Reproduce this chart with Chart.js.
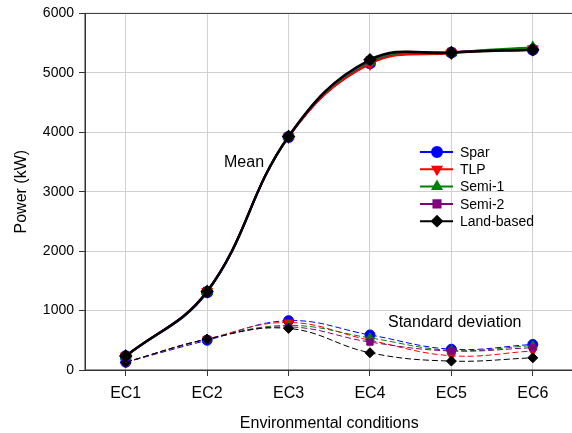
<!DOCTYPE html>
<html>
<head>
<meta charset="utf-8">
<script src="https://cdn.jsdelivr.net/npm/chart.js@4/dist/chart.umd.min.js"></script>
<style>
  html, body { margin: 0; padding: 0; background: #fff; overflow: hidden; }
  #wrap { width: 581px; height: 433px; }
</style>
</head>
<body>
<div id="wrap"><canvas id="chart"></canvas></div>
<script>
const labels = ['EC1', 'EC2', 'EC3', 'EC4', 'EC5', 'EC6'];

const meanSpar  = [230, 1310, 3920, 5160, 5340, 5390];
const meanTLP   = [230, 1320, 3920, 5150, 5330, 5400];
const meanSemi1 = [230, 1320, 3930, 5190, 5340, 5430];
const meanSemi2 = [230, 1330, 3930, 5210, 5350, 5390];
const meanLand  = [235, 1320, 3930, 5220, 5340, 5390];

const stdSpar  = [130, 500, 830, 590, 350, 430];
const stdTLP   = [130, 520, 800, 500, 240, 320];
const stdSemi1 = [130, 520, 750, 540, 330, 410];
const stdSemi2 = [130, 520, 725, 470, 320, 375];
const stdLand  = [130, 520, 700, 290, 150, 205];

const series = [
  { name: 'Spar', color: '#0000ff', style: 'circle', rot: 0, mean: meanSpar, std: stdSpar },
  { name: 'TLP', color: '#ff0000', style: 'triangle', rot: 180, mean: meanTLP, std: stdTLP },
  { name: 'Semi-1', color: '#008000', style: 'triangle', rot: 0, mean: meanSemi1, std: stdSemi1 },
  { name: 'Semi-2', color: '#800080', style: 'rect', rot: 0, mean: meanSemi2, std: stdSemi2 },
  { name: 'Land-based', color: '#000000', style: 'rectRot', rot: 0, mean: meanLand, std: stdLand }
];

const font = '"Liberation Sans", Arial, sans-serif';

// chart.js paints dataset 0 last, so the list is built back to front
const datasets = [];
['mean', 'std'].forEach(kind => {
  series.slice().reverse().forEach(s => {
    datasets.push({
      label: s.name,
      data: s[kind],
      borderColor: s.color,
      backgroundColor: s.color,
      borderWidth: kind === 'mean' ? (s.name === 'Land-based' ? 2.5 : 2) : 1,
      borderDash: kind === 'std' ? [6, 3] : [],
      pointStyle: s.style,
      pointRotation: s.rot,
      pointRadius: s.style === 'rect' ? 4.5 : 5,
      pointBorderColor: s.color,
      pointBackgroundColor: s.color,
      tension: 0.4,
      fill: false
    });
  });
});

const extras = {
  id: 'extras',
  afterDraw(chart) {
    const ctx = chart.ctx;
    const a = chart.chartArea;
    ctx.save();
    ctx.strokeStyle = '#333';
    ctx.lineWidth = 1;
    ctx.strokeRect(a.left, a.top, a.right - a.left, a.bottom - a.top);

    ctx.fillStyle = '#000';
    ctx.font = '16px ' + font;
    ctx.textBaseline = 'middle';
    ctx.fillText('Mean', 224, 163);
    ctx.fillText('Standard deviation', 388, 323);

    ctx.font = '14px ' + font;
    series.forEach((s, i) => {
      const y = 152 + i * 17.3;
      ctx.strokeStyle = s.color;
      ctx.lineWidth = 2;
      ctx.setLineDash([]);
      ctx.beginPath();
      ctx.moveTo(420, y);
      ctx.lineTo(453, y);
      ctx.stroke();
      ctx.fillStyle = s.color;
      Chart.helpers.drawPoint(ctx, { pointStyle: s.style, rotation: s.rot, radius: 5, borderWidth: 1 }, 437, y);
      ctx.fillStyle = '#000';
      ctx.fillText(s.name, 460, y + 1);
    });
    ctx.restore();
  }
};

new Chart(document.getElementById('chart'), {
  type: 'line',
  data: { labels: labels, datasets: datasets },
  options: {
    responsive: true,
    maintainAspectRatio: false,
    animation: false,
    layout: { padding: { top: 12, right: 0, left: 12, bottom: 0 } },
    plugins: { legend: { display: false }, tooltip: { enabled: false } },
    scales: {
      x: {
        offset: true,
        grid: { color: '#d0d0d0', tickColor: '#333', tickLength: 6, drawOnChartArea: true },
        border: { color: '#333' },
        ticks: { color: '#000', font: { family: font, size: 16 }, padding: 8 },
        title: { display: true, text: 'Environmental conditions', color: '#000', font: { family: font, size: 16 }, padding: { top: 4, bottom: 0 } },
        afterFit(scale) { scale.height = 63; }
      },
      y: {
        min: 0,
        max: 6000,
        grid: { color: '#d0d0d0', tickColor: '#333', tickLength: 6 },
        border: { color: '#333' },
        ticks: { stepSize: 1000, color: '#000', font: { family: font, size: 14 }, padding: 5, callback: v => String(v) },
        title: { display: true, text: 'Power (kW)', color: '#000', font: { family: font, size: 16 }, padding: { top: 0, bottom: 0 } },
        afterFit(scale) { scale.width = 73; }
      }
    }
  },
  plugins: [extras]
});
</script>
</body>
</html>
